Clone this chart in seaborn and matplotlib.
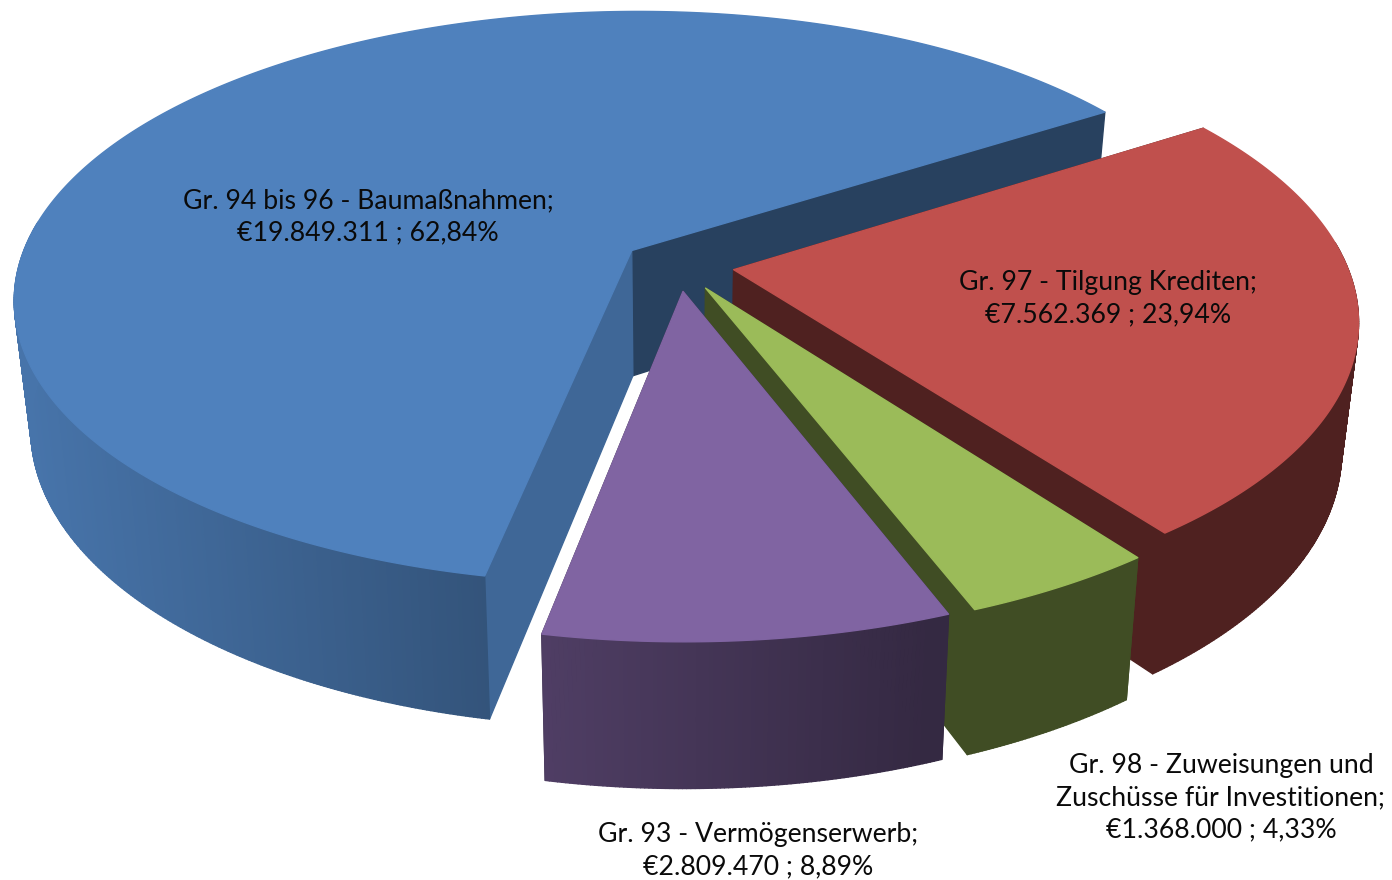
import matplotlib.pyplot as plt
import numpy as np
import seaborn as sns

groups = [
    "Gr. 94 bis 96 - Baumaßnahmen;",
    "Gr. 97 - Tilgung Krediten;",
    "Gr. 98 - Zuweisungen und\nZuschüsse für Investitionen;",
    "Gr. 93 - Vermögenserwerb;",
]
amounts = [19849311, 7562369, 1368000, 2809470]
percents = [62.84, 23.94, 4.33, 8.89]
colors = ["#4f81bd", "#c0504d", "#9bbb59", "#8064a2"]

# shade of the two cut faces of every slice (start edge, end edge)
cut_shades = [(0.8, 0.5), (0.41, 0.41), (0.41, 0.41), (0.41, 0.41)]
label_pos = [(368, 217), (1108, 299), (1221, 798), (758, 851)]

# view of the disc, in pixels
CX, CY = 678, 265
RX, RY = 613, 283
PERSPECTIVE = 0.165
EXPLODE = 0.092
FIRST_ANGLE = 191


def project(u, v):
    den = 1 - PERSPECTIVE * v
    return CX + RX * u / den, CY + RY * v / den


def drop(x, y):
    '''Same point on the bottom plane of the pie'''
    return CX + (x - CX) * 0.975, CY + (y - CY) * 1.055 + 126


def wall_shade(x):
    return np.clip(0.9 - (x - 20) * 0.5 / 925, 0.41, 0.9)


def shaded(color, shade):
    return tuple(c * shade for c in sns.desaturate(color, 1.0))


def fill(ax, xs, ys, color):
    ax.fill(xs, ys, color=color, lw=1.0, joinstyle="round")


sns.set_theme(style="white")
plt.rcParams["font.family"] = ["Lato", "DejaVu Sans"]

fig = plt.figure(figsize=(13.92, 8.8), dpi=100)
ax = fig.add_axes([0, 0, 1, 1])
ax.set_xlim(0, 1392)
ax.set_ylim(880, 0)
ax.axis("off")

sweeps = 360 * np.array(amounts) / sum(amounts)
starts = FIRST_ANGLE + np.concatenate([[0], np.cumsum(sweeps)[:-1]])

for start, sweep, color, shades in zip(starts, sweeps, colors, cut_shades):
    theta = np.radians(np.linspace(start, start + sweep, int(sweep * 3) + 2))
    mid = np.radians(start + sweep / 2)
    off_u, off_v = EXPLODE * np.sin(mid), -EXPLODE * np.cos(mid)

    rim_x, rim_y = project(off_u + np.sin(theta), off_v - np.cos(theta))
    low_x, low_y = drop(rim_x, rim_y)
    apex_x, apex_y = project(off_u, off_v)
    low_apex_x, low_apex_y = drop(apex_x, apex_y)

    # cut faces, back one first
    faces = [(-1, shades[1]), (0, shades[0])]
    for i, shade in faces:
        fill(ax, [apex_x, rim_x[i], low_x[i], low_apex_x],
             [apex_y, rim_y[i], low_y[i], low_apex_y], shaded(color, shade))

    # outer wall, darker to the right; the back half can't be seen
    for i in range(len(theta) - 1):
        if np.cos(theta[i]) > 0.1:
            continue
        fill(ax, [rim_x[i], rim_x[i + 1], low_x[i + 1], low_x[i]],
             [rim_y[i], rim_y[i + 1], low_y[i + 1], low_y[i]],
             shaded(color, wall_shade((rim_x[i] + rim_x[i + 1]) / 2)))

    fill(ax, np.r_[apex_x, rim_x], np.r_[apex_y, rim_y], color)

for name, amount, percent, (x, y) in zip(groups, amounts, percents, label_pos):
    money = f"€{amount:,}".replace(",", ".")
    share = f"{percent:.2f}".replace(".", ",")
    ax.text(x, y, f"{name}\n{money} ; {share}%", ha="center", va="center",
            fontsize=19.2, color="#0a0a0a", linespacing=1.36)

plt.savefig("out.png", dpi=100)
plt.close()
